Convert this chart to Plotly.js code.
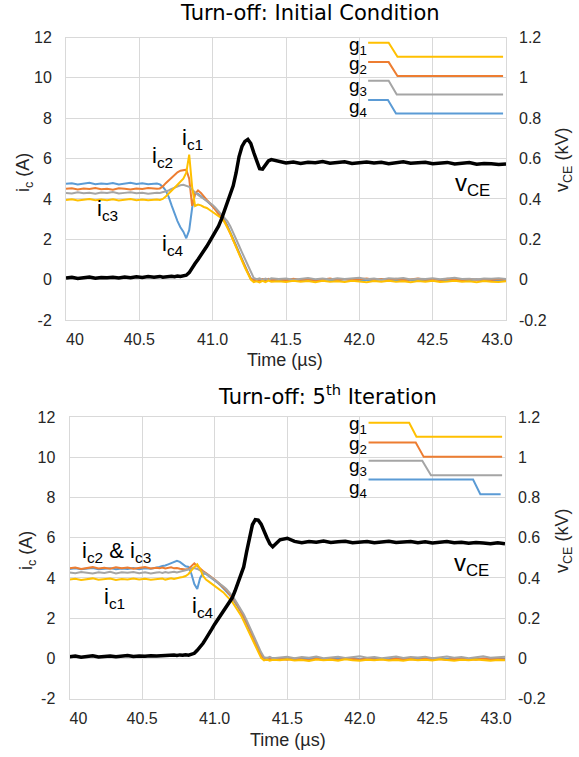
<!DOCTYPE html>
<html>
<head>
<meta charset="utf-8">
<script src="https://cdn.plot.ly/plotly-3.0.1.min.js"></script>
<style>html,body{margin:0;padding:0;background:#fff;}#chart{width:579px;height:757px;}</style>
</head>
<body>
<div id="chart"></div>
<script>
// ---------- DATA ----------
const time = [
40.00,40.04,40.08,40.12,40.16,40.20,40.24,40.28,40.32,40.36,40.40,40.44,40.48,40.52,40.56,40.60,
40.62,40.64,40.66,40.68,40.70,40.72,40.74,40.76,40.78,40.80,
40.82,40.84,40.86,40.88,40.90,40.92,40.94,40.96,40.98,41.00,
41.02,41.04,41.06,41.08,41.10,41.12,41.14,41.16,41.18,41.20,
41.22,41.24,41.26,41.28,41.30,41.32,41.34,41.36,41.38,41.40,
41.45,41.50,41.55,41.60,41.65,41.70,41.75,41.80,41.85,41.90,
41.95,42.00,42.05,42.10,42.15,42.20,42.25,42.30,42.35,42.40,
42.45,42.50,42.55,42.60,42.65,42.70,42.75,42.80,42.85,42.90,
42.95,43.00];

// Top chart: Initial Condition
const ic1Init = [
3.95,3.98,3.92,3.96,3.99,3.93,3.97,3.94,3.98,3.92,3.96,3.99,3.94,3.97,3.93,3.96,
3.97,3.95,4.00,4.12,4.25,4.40,4.55,4.70,4.85,5.00,
5.30,6.20,4.60,3.65,3.72,3.68,3.60,3.55,3.45,3.35,
3.25,3.15,3.05,2.85,2.60,2.30,1.95,1.60,1.25,0.90,
0.60,0.30,0.00,-0.12,-0.08,-0.14,-0.06,-0.12,-0.05,-0.10,
-0.08,-0.12,-0.05,-0.10,-0.07,-0.13,-0.06,-0.10,-0.08,-0.12,
-0.05,-0.09,-0.13,-0.07,-0.10,-0.06,-0.11,-0.08,-0.13,-0.07,
-0.10,-0.05,-0.12,-0.09,-0.06,-0.11,-0.08,-0.13,-0.07,-0.10,
-0.12,-0.08];
const ic2Init = [
4.50,4.53,4.47,4.52,4.49,4.54,4.48,4.51,4.46,4.53,4.50,4.47,4.52,4.49,4.54,4.50,
4.50,4.52,4.62,4.78,4.92,5.05,5.20,5.32,5.40,5.42,
5.45,5.00,3.65,4.25,4.42,4.30,4.10,3.95,3.80,3.62,
3.45,3.30,3.12,2.90,2.62,2.32,1.98,1.64,1.30,0.95,
0.65,0.35,0.05,-0.05,0.02,-0.04,0.03,-0.02,0.04,-0.03,
0.02,-0.03,0.04,-0.02,0.03,-0.04,0.01,0.05,-0.02,0.03,
-0.03,0.02,0.06,-0.01,0.03,-0.02,0.04,-0.03,0.02,0.05,
-0.01,0.03,-0.02,0.04,0.01,-0.03,0.03,-0.01,0.02,-0.02,
0.03,0.00];
const ic3Init = [
4.30,4.27,4.33,4.28,4.31,4.26,4.32,4.29,4.34,4.27,4.30,4.33,4.28,4.31,4.26,4.30,
4.31,4.29,4.33,4.36,4.42,4.50,4.57,4.63,4.68,4.70,
4.66,4.60,4.45,4.30,4.20,4.10,4.00,3.92,3.82,3.70,
3.55,3.40,3.25,3.08,2.90,2.65,2.35,2.02,1.68,1.35,
1.02,0.70,0.38,0.08,0.02,0.06,-0.01,0.05,0.00,0.07,
0.03,0.06,0.00,0.05,0.08,0.02,0.06,0.01,0.07,0.03,
0.05,0.09,0.02,0.06,0.00,0.07,0.04,0.08,0.01,0.05,
0.03,0.07,0.02,0.06,0.09,0.03,0.05,0.01,0.06,0.04,
0.07,0.03];
const ic4Init = [
4.75,4.78,4.72,4.76,4.80,4.73,4.77,4.74,4.79,4.72,4.76,4.80,4.74,4.78,4.73,4.77,
4.76,4.72,4.60,4.42,4.10,3.68,3.25,2.90,2.60,2.38,
2.05,2.45,3.55,4.30,4.25,4.15,4.02,3.90,3.78,3.63,
3.48,3.32,3.15,2.95,2.68,2.38,2.05,1.70,1.35,1.00,
0.68,0.36,0.06,-0.03,0.01,-0.05,0.02,-0.03,0.00,-0.04,
-0.01,-0.04,0.02,-0.03,0.00,-0.05,0.01,-0.02,-0.04,0.02,
-0.01,-0.05,0.00,-0.03,0.02,-0.02,-0.04,0.01,-0.03,0.00,
-0.05,0.02,-0.02,-0.04,0.01,-0.01,-0.03,0.02,-0.04,0.00,
-0.02,-0.03];
const vceInit = [
0.008,0.012,0.006,0.010,0.013,0.007,0.011,0.009,0.012,0.008,0.013,0.010,0.014,0.011,0.015,0.012,
0.013,0.016,0.012,0.015,0.014,0.017,0.015,0.018,0.016,0.020,
0.022,0.035,0.060,0.080,0.100,0.120,0.142,0.165,0.190,0.215,
0.240,0.265,0.300,0.340,0.385,0.420,0.465,0.530,0.610,0.660,
0.685,0.695,0.675,0.630,0.585,0.550,0.548,0.570,0.588,0.595,
0.585,0.578,0.583,0.576,0.582,0.579,0.585,0.577,0.581,0.584,
0.576,0.580,0.583,0.578,0.582,0.575,0.580,0.584,0.577,0.579,
0.582,0.574,0.578,0.581,0.573,0.577,0.580,0.572,0.576,0.574,
0.571,0.573];

// Bottom chart: 5th Iteration
const ic1Iter5 = [
3.93,3.96,3.90,3.95,3.98,3.91,3.94,3.97,3.90,3.95,3.92,3.97,3.93,3.96,3.91,3.95,
3.94,3.97,3.92,3.96,3.99,3.95,4.00,4.02,4.05,4.10,
4.20,4.38,4.55,4.68,4.45,4.10,3.92,3.82,3.72,3.60,
3.50,3.40,3.28,3.12,2.97,2.82,2.60,2.38,2.15,1.85,
1.55,1.22,0.90,0.60,0.30,0.02,-0.10,-0.06,-0.12,-0.07,
-0.10,-0.05,-0.11,-0.08,-0.13,-0.06,-0.10,-0.07,-0.12,-0.05,
-0.09,-0.12,-0.07,-0.10,-0.06,-0.11,-0.08,-0.12,-0.06,-0.10,
-0.07,-0.11,-0.05,-0.09,-0.12,-0.07,-0.10,-0.06,-0.09,-0.12,
-0.08,-0.10];
const ic2Iter5 = [
4.48,4.52,4.45,4.50,4.54,4.47,4.51,4.46,4.53,4.49,4.52,4.46,4.50,4.54,4.47,4.51,
4.48,4.52,4.47,4.50,4.53,4.48,4.50,4.46,4.44,4.42,
4.45,4.60,4.73,4.60,4.45,4.35,4.25,4.15,4.05,3.92,
3.80,3.68,3.55,3.40,3.22,3.05,2.85,2.62,2.38,2.10,
1.80,1.48,1.15,0.82,0.50,0.18,-0.04,-0.08,-0.02,-0.06,
-0.03,-0.07,-0.01,-0.05,-0.09,-0.02,-0.06,-0.03,-0.08,-0.01,
-0.05,-0.07,-0.02,-0.06,-0.04,-0.08,-0.01,-0.05,-0.03,-0.07,
-0.02,-0.06,-0.04,-0.08,-0.02,-0.05,-0.03,-0.07,-0.01,-0.05,
-0.04,-0.06];
const ic3Iter5 = [
4.27,4.24,4.30,4.26,4.22,4.29,4.25,4.31,4.23,4.28,4.26,4.30,4.24,4.28,4.22,4.27,
4.29,4.25,4.30,4.26,4.28,4.31,4.27,4.30,4.33,4.36,
4.42,4.48,4.50,4.45,4.38,4.30,4.22,4.12,4.02,3.92,
3.82,3.70,3.58,3.45,3.30,3.12,2.92,2.70,2.46,2.20,
1.90,1.60,1.28,0.95,0.62,0.30,0.05,0.02,0.07,0.00,
0.04,0.08,0.01,0.06,0.03,0.09,0.00,0.05,0.08,0.02,
0.06,0.10,0.03,0.07,0.01,0.05,0.09,0.02,0.06,0.04,
0.08,0.00,0.05,0.09,0.03,0.07,0.01,0.06,0.10,0.03,
0.05,0.08];
const ic4Iter5 = [
4.45,4.48,4.43,4.47,4.50,4.44,4.46,4.49,4.43,4.47,4.45,4.50,4.44,4.48,4.46,4.50,
4.55,4.60,4.62,4.68,4.75,4.82,4.86,4.80,4.68,4.58,
4.55,4.20,3.70,3.45,4.00,4.25,4.20,4.10,4.00,3.88,
3.76,3.64,3.50,3.36,3.18,3.00,2.80,2.56,2.32,2.05,
1.75,1.42,1.10,0.78,0.45,0.14,-0.02,0.03,-0.04,0.01,
-0.02,0.02,-0.04,0.00,-0.03,0.03,-0.05,-0.01,0.02,-0.03,
0.01,-0.04,0.00,0.03,-0.02,-0.05,0.01,-0.03,0.02,-0.01,
-0.04,0.00,0.02,-0.03,-0.01,0.03,-0.04,0.00,-0.02,0.01,
-0.03,-0.01];
const vceIter5 = [
0.008,0.011,0.006,0.010,0.013,0.007,0.010,0.012,0.008,0.011,0.014,0.009,0.012,0.010,0.013,0.011,
0.012,0.014,0.011,0.015,0.013,0.016,0.014,0.017,0.015,0.018,
0.016,0.020,0.025,0.040,0.055,0.075,0.098,0.118,0.145,0.170,
0.192,0.212,0.235,0.255,0.275,0.300,0.335,0.375,0.415,0.455,
0.530,0.600,0.665,0.690,0.688,0.668,0.630,0.600,0.570,0.555,
0.590,0.598,0.582,0.576,0.581,0.578,0.584,0.577,0.580,0.583,
0.576,0.579,0.582,0.575,0.580,0.583,0.577,0.579,0.582,0.576,
0.580,0.574,0.578,0.581,0.575,0.578,0.573,0.577,0.574,0.571,
0.575,0.570];

// Gate-signal sketches (time corners, high / low levels on the ic axis)
const gateNames = ['g<sub>1</sub>','g<sub>2</sub>','g<sub>3</sub>','g<sub>4</sub>'];
const gateInitT = [[42.06,42.20,42.26,42.98],[42.06,42.20,42.26,42.98],[42.06,42.20,42.255,42.98],[42.06,42.195,42.25,42.98]];
const gateInitHigh = [11.74,10.78,9.86,8.90];
const gateInitLow  = [11.04,10.09,9.17,8.23];
const gateIter5T = [[42.06,42.34,42.39,42.98],[42.06,42.385,42.44,42.98],[42.06,42.43,42.49,42.98],[42.06,42.78,42.83,42.97]];
const gateIter5High = [11.73,10.74,9.84,8.90];
const gateIter5Low  = [11.03,10.03,9.11,8.17];

const xTickVals = [40,40.5,41,41.5,42,42.5,43];
const xTickText = ['\u00a0\u00a0\u00a0\u00a040','40.5','41.0','41.5','42.0','42.5','43.0\u00a0\u00a0\u00a0\u00a0'];
const yTickVals = [-2,0,2,4,6,8,10,12];
const yTickText = ['-2','0','2','4','6','8','10','12'];
const y2TickVals = [-0.2,0,0.2,0.4,0.6,0.8,1.0,1.2];
const y2TickText = ['-0.2','0','0.2','0.4','0.6','0.8','1','1.2'];

// ---------- STYLE ----------
const C = {ic1:'#FFC000', ic2:'#ED7D31', ic3:'#A5A5A5', ic4:'#5B9BD5', v:'#000000'};
const FONT = 'Liberation Sans, Arial, sans-serif';
const TFONT = 'DejaVu Sans, sans-serif';
const gateColors = [C.ic1, C.ic2, C.ic3, C.ic4];

const traces = [];
function addChart(xa, ya, yv, ic1, ic2, ic3, ic4, vce, gT, gH, gL) {
  traces.push({x:time, y:ic4, xaxis:xa, yaxis:ya, mode:'lines', line:{color:C.ic4, width:2}});
  traces.push({x:time, y:ic2, xaxis:xa, yaxis:ya, mode:'lines', line:{color:C.ic2, width:2}});
  traces.push({x:time, y:ic3, xaxis:xa, yaxis:ya, mode:'lines', line:{color:C.ic3, width:2}});
  traces.push({x:time, y:ic1, xaxis:xa, yaxis:ya, mode:'lines', line:{color:C.ic1, width:2}});
  for (let i = 0; i < 4; i++) {
    traces.push({x:gT[i], y:[gH[i],gH[i],gL[i],gL[i]], xaxis:xa, yaxis:ya, mode:'lines',
      line:{color:gateColors[i], width:2}});
  }
  traces.push({x:time, y:vce, xaxis:xa, yaxis:yv, mode:'lines', line:{color:C.v, width:3.5}});
}
addChart('x','y','y2', ic1Init, ic2Init, ic3Init, ic4Init, vceInit, gateInitT, gateInitHigh, gateInitLow);
addChart('x2','y3','y4', ic1Iter5, ic2Iter5, ic3Iter5, ic4Iter5, vceIter5, gateIter5T, gateIter5High, gateIter5Low);

const tickFont = {family:FONT, size:16, color:'#262626'};
function xAx(dom, anchor) {
  return {domain:dom, anchor:anchor, range:[40,43], tickmode:'array', tickvals:xTickVals, ticktext:xTickText,
    showgrid:true, gridcolor:'#d9d9d9', gridwidth:1, zeroline:false, showline:true, mirror:true,
    linecolor:'#d9d9d9', linewidth:1, ticks:'', tickfont:tickFont, ticklabelstandoff:5, fixedrange:true};
}
function yAx(dom, anchor) {
  return {domain:dom, anchor:anchor, range:[-2,12], tickmode:'array', tickvals:yTickVals, ticktext:yTickText,
    showgrid:true, gridcolor:'#d9d9d9', gridwidth:1, zeroline:false, showline:true, mirror:true,
    linecolor:'#d9d9d9', linewidth:1, ticks:'', tickfont:tickFont, ticklabelstandoff:10, fixedrange:true};
}
function yRight(over, anchor) {
  return {overlaying:over, anchor:anchor, side:'right', range:[-0.2,1.2], tickmode:'array',
    tickvals:y2TickVals, ticktext:y2TickText, showgrid:false, zeroline:false, showline:false,
    ticks:'', tickfont:tickFont, ticklabelstandoff:12, fixedrange:true};
}

const ann = [];
function txt(o) { ann.push(Object.assign({showarrow:false, xanchor:'center', yanchor:'middle',
  font:{family:FONT, size:18, color:'#000'}}, o)); }
// Titles
txt({text:'Turn-off: Initial Condition', xref:'paper', yref:'paper', x:310/579, y:1-13/757, font:{family:TFONT, size:21, color:'#000'}});
txt({text:'Turn-off: 5<sup>th</sup> Iteration', xref:'paper', yref:'paper', x:327/579, y:1-395/757, font:{family:TFONT, size:21, color:'#000'}});
// Axis titles
const AX = {family:FONT, size:18, color:'#262626'};
txt({text:'i<sub>c</sub> (A)', xref:'paper', yref:'paper', x:24/579, y:1-173/757, textangle:-90, font:AX});
txt({text:'v<sub>CE</sub> (kV)', xref:'paper', yref:'paper', x:563/579, y:1-160/757, textangle:-90, font:AX});
txt({text:'Time (µs)', xref:'paper', yref:'paper', x:285/579, y:1-360/757, font:AX});
txt({text:'i<sub>c</sub> (A)', xref:'paper', yref:'paper', x:27/579, y:1-551/757, textangle:-90, font:AX});
txt({text:'v<sub>CE</sub> (kV)', xref:'paper', yref:'paper', x:563/579, y:1-541/757, textangle:-90, font:AX});
txt({text:'Time (µs)', xref:'paper', yref:'paper', x:288/579, y:1-740/757, font:AX});
// Curve labels (top)
const LBL = {family:FONT, size:22, color:'#000'};
const VLBL = {family:FONT, size:24, color:'#000'};
txt({text:'i<sub>c1</sub>', xref:'x', yref:'y', x:40.86, y:6.95, font:LBL});
txt({text:'i<sub>c2</sub>', xref:'x', yref:'y', x:40.66, y:6.1, font:LBL});
txt({text:'i<sub>c3</sub>', xref:'x', yref:'y', x:40.28, y:3.45, font:LBL});
txt({text:'i<sub>c4</sub>', xref:'x', yref:'y', x:40.73, y:1.7, font:LBL});
txt({text:'v<sub>CE</sub>', xref:'x', yref:'y', x:42.77, y:4.7, font:VLBL});
// Curve labels (bottom)
txt({text:'i<sub>c2</sub> & i<sub>c3</sub>', xref:'x2', yref:'y3', x:40.325, y:5.31, font:LBL});
txt({text:'i<sub>c1</sub>', xref:'x2', yref:'y3', x:40.31, y:2.99, font:LBL});
txt({text:'i<sub>c4</sub>', xref:'x2', yref:'y3', x:40.917, y:2.57, font:LBL});
txt({text:'v<sub>CE</sub>', xref:'x2', yref:'y3', x:42.77, y:4.65, font:VLBL});
// Gate labels
const gateInitLblY = [11.6,10.63,9.53,8.49];
const gateIter5LblY = [11.62,10.62,9.51,8.42];
for (let i = 0; i < 4; i++) {
  txt({text:gateNames[i], xref:'x', yref:'y', x:42.065, y:gateInitLblY[i], xanchor:'right', font:{family:FONT, size:19, color:'#000'}});
  txt({text:gateNames[i], xref:'x2', yref:'y3', x:42.065, y:gateIter5LblY[i], xanchor:'right', font:{family:FONT, size:19, color:'#000'}});
}

const layout = {
  width:579, height:757, margin:{l:0, r:0, t:0, b:0}, showlegend:false,
  paper_bgcolor:'#ffffff', plot_bgcolor:'#ffffff',
  xaxis: xAx([66/579, 506/579], 'y'),
  yaxis: yAx([1-320/757, 1-37.5/757], 'x'),
  yaxis2: yRight('y', 'x'),
  xaxis2: xAx([69.5/579, 505/579], 'y3'),
  yaxis3: yAx([1-698.5/757, 1-417.3/757], 'x2'),
  yaxis4: yRight('y3', 'x2'),
  annotations: ann
};
Plotly.newPlot('chart', traces, layout, {displayModeBar:false, staticPlot:true});
</script>
</body>
</html>
